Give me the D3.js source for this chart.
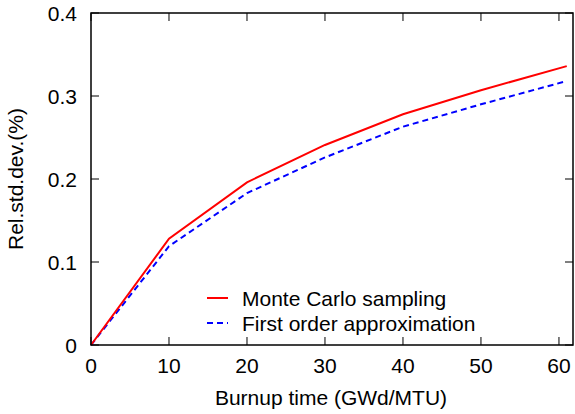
<!DOCTYPE html>
<html><head><meta charset="utf-8">
<script src="https://cdn.jsdelivr.net/npm/d3@7"></script>
<style>body{margin:0;background:#fff}text{font-family:"Liberation Sans",Arial,sans-serif;}</style>
</head><body><svg id="c" width="575" height="414"></svg>
<script>
const burnup = [0, 10, 20, 30, 40, 50, 61];
const monteCarlo = [0, 0.128, 0.196, 0.241, 0.278, 0.307, 0.336];
const firstOrder = [0, 0.119, 0.183, 0.226, 0.263, 0.290, 0.318];
const xTicks = [0, 10, 20, 30, 40, 50, 60];
const yTicks = [0, 0.1, 0.2, 0.3, 0.4];
const seriesNames = ["Monte Carlo sampling", "First order approximation"];

const svg = d3.select("#c");
const L = 91, R = 573, T = 13, B = 345;
const x = d3.scaleLinear().domain([0, 61.8]).range([L, R]);
const y = d3.scaleLinear().domain([0, 0.4]).range([B, T]);
const fs = 21;

// ticks (mirror on all sides, inward)
const tk = 8;
const g = svg.append("g");
xTicks.forEach(t => {
  g.append("line").attr("x1", x(t)).attr("x2", x(t)).attr("y1", B).attr("y2", B - tk).attr("stroke", "#000");
  g.append("line").attr("x1", x(t)).attr("x2", x(t)).attr("y1", T).attr("y2", T + tk).attr("stroke", "#000");
  g.append("text").attr("x", x(t)).attr("y", 373).attr("text-anchor", "middle").attr("font-size", fs).text(d3.format("d")(t));
});
yTicks.forEach(t => {
  g.append("line").attr("x1", L).attr("x2", L + tk).attr("y1", y(t)).attr("y2", y(t)).attr("stroke", "#000");
  g.append("line").attr("x1", R).attr("x2", R - tk).attr("y1", y(t)).attr("y2", y(t)).attr("stroke", "#000");
  g.append("text").attr("x", 77).attr("y", y(t) + 7.5).attr("text-anchor", "end").attr("font-size", fs).text(t === 0 ? "0" : d3.format(".1f")(t));
});

const line = d3.line().x(d => x(d[0])).y(d => y(d[1]));
svg.append("path").datum(burnup.map((b, i) => [b, firstOrder[i]])).attr("d", line)
  .attr("fill", "none").attr("stroke", "#0000ff").attr("stroke-width", 2).attr("stroke-dasharray", "6,4");
svg.append("path").datum(burnup.map((b, i) => [b, monteCarlo[i]])).attr("d", line)
  .attr("fill", "none").attr("stroke", "#ff0000").attr("stroke-width", 2);

// frame
svg.append("rect").attr("x", L).attr("y", T).attr("width", R - L).attr("height", B - T)
  .attr("fill", "none").attr("stroke", "#000").attr("stroke-width", 1.5);

// axis labels
svg.append("text").attr("x", 331).attr("y", 405).attr("text-anchor", "middle").attr("font-size", fs).text("Burnup time (GWd/MTU)");
svg.append("text").attr("transform", "translate(23," + ((T + B) / 2) + ") rotate(-90)").attr("text-anchor", "middle").attr("font-size", fs).text("Rel.std.dev.(%)");

// legend
const leg = [{c: "#ff0000", d: null}, {c: "#0000ff", d: "6,4"}];
leg.forEach((l, i) => {
  const yy = 298 + i * 25;
  svg.append("line").attr("x1", 207).attr("x2", 228).attr("y1", yy).attr("y2", yy)
    .attr("stroke", l.c).attr("stroke-width", 2).attr("stroke-dasharray", l.d);
  svg.append("text").attr("x", 242).attr("y", yy + 7.5).attr("font-size", fs).text(seriesNames[i]);
});
</script></body></html>
